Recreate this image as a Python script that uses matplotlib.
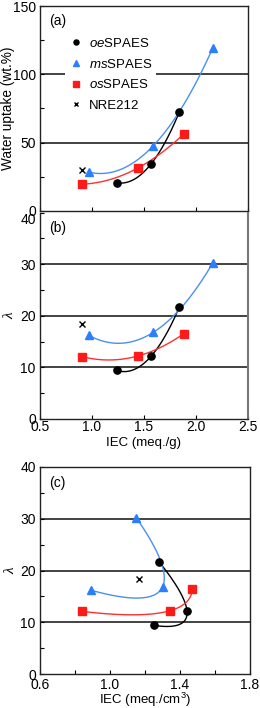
import numpy as np
import matplotlib
matplotlib.use("Agg")
import matplotlib.pyplot as plt
from matplotlib.ticker import MultipleLocator

plt.rcParams['font.family'] = ['Liberation Sans', 'DejaVu Sans']
plt.rcParams['mathtext.fontset'] = 'custom'
plt.rcParams['mathtext.it'] = 'Liberation Sans:italic'
plt.rcParams['mathtext.rm'] = 'Liberation Sans'

# ---- data ----
series = ['oeSPAES', 'msSPAES', 'osSPAES']
labels = [r'$\it{oe}$SPAES', r'$\it{ms}$SPAES', r'$\it{os}$SPAES', 'NRE212']
iec_w = {'oeSPAES': [1.24, 1.57, 1.84],
         'msSPAES': [0.97, 1.59, 2.16],
         'osSPAES': [0.90, 1.44, 1.88]}
water_uptake = {'oeSPAES': [20.6, 34.6, 72.5],
                'msSPAES': [28.4, 47.8, 119.0],
                'osSPAES': [19.6, 31.4, 56.2]}
lam = {'oeSPAES': [9.4, 12.2, 21.7],
       'msSPAES': [16.2, 16.8, 30.2],
       'osSPAES': [12.1, 12.2, 16.5]}
iec_v = {'oeSPAES': [1.25, 1.44, 1.28],
         'msSPAES': [0.89, 1.30, 1.15],
         'osSPAES': [0.84, 1.34, 1.47]}
nre_iec_w = 0.90
nre_wu = 30.0
nre_lam = 18.4
nre_iec_v = 1.165

colors = {'oeSPAES': '#000000', 'msSPAES': '#2a7fff', 'osSPAES': '#ff1a1a'}
line_colors = {'oeSPAES': '#000000', 'msSPAES': '#4a90f0', 'osSPAES': '#ff3030'}
markers = {'oeSPAES': 'o', 'msSPAES': '^', 'osSPAES': 's'}


def quad_curve(t, x, y, n=200):
    tt = np.linspace(min(t), max(t), n)
    px = np.polyfit(t, x, 2)
    py = np.polyfit(t, y, 2)
    return np.polyval(px, tt), np.polyval(py, tt)


fig = plt.figure(figsize=(2.6, 7.08), dpi=100)
W, H = 260.0, 708.0
def box(l, r, t, b):
    return [l / W, 1 - b / H, (r - l) / W, (b - t) / H]

ax_a = fig.add_axes(box(40, 248, 6, 211))
ax_b = fig.add_axes(box(40, 248, 212.6, 419))
ax_c = fig.add_axes(box(40, 250, 467, 674))

for ax in (ax_a, ax_b, ax_c):
    ax.tick_params(direction='in', which='both', length=3, width=0.8,
                   labelsize=10, top=False, right=False, pad=3)
    for s in ax.spines.values():
        s.set_linewidth(1.0)
        s.set_color('#222222')

ax_b.spines['top'].set_visible(False)
ax_b.spines['right'].set_color('#777777')
ax_b.spines['right'].set_linewidth(1.5)
ax_b.tick_params(axis='x', pad=1)
ax_c.tick_params(axis='x', pad=3)

lam_font = dict(family='Liberation Serif', style='italic', fontsize=11)

# ---- panel (a) ----
for s in series:
    xs, ys = quad_curve(iec_w[s], iec_w[s], water_uptake[s])
    ax_a.plot(xs, ys, color=line_colors[s], lw=1.0, zorder=3)
handles = []
for s, lab in zip(series, labels[:3]):
    h, = ax_a.plot(iec_w[s], water_uptake[s], linestyle='none', marker=markers[s],
                   color=colors[s], ms=5.2, label=lab, zorder=4)
    handles.append(h)
h, = ax_a.plot([nre_iec_w], [nre_wu], linestyle='none', marker='x', color='black',
               ms=4.5, mew=1.0, label=labels[3], zorder=4)
handles.append(h)
ax_a.set_xlim(0.5, 2.5)
ax_a.set_ylim(0, 150)
ax_a.xaxis.set_major_locator(MultipleLocator(0.5))
ax_a.yaxis.set_major_locator(MultipleLocator(50))
ax_a.yaxis.set_minor_locator(MultipleLocator(25))
ax_a.tick_params(axis='x', labelbottom=False)
for v in (50, 100):
    ax_a.axhline(v, color='#222222', lw=1.2, zorder=1)
ax_a.set_ylabel('Water uptake (wt.%)', fontsize=9.8)
ax_a.yaxis.set_label_coords(-0.118, 0.5)
ax_a.text(0.045, 0.925, '(a)', transform=ax_a.transAxes, fontsize=10, va='center')
leg = ax_a.legend(handles=handles, loc='upper left', bbox_to_anchor=(0.12, 0.87),
                  frameon=True, fontsize=9.5, markerscale=0.7, handlelength=1.0,
                  handletextpad=0.5, labelspacing=0.6, borderpad=0.3,
                  borderaxespad=0)
leg.get_frame().set_edgecolor('none')
leg.get_frame().set_facecolor('white')
leg.get_frame().set_alpha(1.0)
leg.set_zorder(2)

# ---- panel (b) ----
for s in series:
    xs, ys = quad_curve(iec_w[s], iec_w[s], lam[s])
    ax_b.plot(xs, ys, color=line_colors[s], lw=1.0, zorder=3)
    ax_b.plot(iec_w[s], lam[s], linestyle='none', marker=markers[s],
              color=colors[s], ms=5.2, zorder=4)
ax_b.plot([nre_iec_w], [nre_lam], linestyle='none', marker='x', color='black',
          ms=4.5, mew=1.0, zorder=4)
ax_b.set_xlim(0.5, 2.5)
ax_b.set_ylim(0, 40)
ax_b.set_xticks([0.5, 1.0, 1.5, 2.0, 2.5])
ax_b.set_xticklabels(['0.5', '1.0', '1.5', '2.0', '2.5'])
ax_b.set_yticks([0, 10, 20, 30, 40])
ax_b.yaxis.set_minor_locator(MultipleLocator(5))
for v in (10, 20, 30):
    ax_b.axhline(v, color='#222222', lw=1.2, zorder=1)
ax_b.set_ylabel('λ', **lam_font)
ax_b.yaxis.set_label_coords(-0.115, 0.5)
ax_b.set_xlabel('IEC (meq./g)', fontsize=9.5)
ax_b.xaxis.set_label_coords(0.5, -0.085)
ax_b.text(0.045, 0.925, '(b)', transform=ax_b.transAxes, fontsize=10, va='center')
ax_b.get_yticklabels()[-1].set_va('top')

# ---- panel (c) ----
for s in series:
    xs, ys = quad_curve(iec_w[s], iec_v[s], lam[s])
    ax_c.plot(xs, ys, color=line_colors[s], lw=1.0, zorder=3)
    ax_c.plot(iec_v[s], lam[s], linestyle='none', marker=markers[s],
              color=colors[s], ms=5.2, zorder=4)
ax_c.plot([nre_iec_v], [nre_lam], linestyle='none', marker='x', color='black',
          ms=4.5, mew=1.0, zorder=4)
ax_c.set_xlim(0.6, 1.8)
ax_c.set_ylim(0, 40)
ax_c.set_xticks([0.6, 1.0, 1.4, 1.8])
ax_c.set_xticklabels(['0.6', '1.0', '1.4', '1.8'])
ax_c.xaxis.set_minor_locator(MultipleLocator(0.2))
ax_c.set_yticks([0, 10, 20, 30, 40])
ax_c.yaxis.set_minor_locator(MultipleLocator(5))
for v in (10, 20, 30):
    ax_c.axhline(v, color='#222222', lw=1.2, zorder=1)
ax_c.set_ylabel('λ', **lam_font)
ax_c.yaxis.set_label_coords(-0.11, 0.5)
ax_c.set_xlabel(r'IEC (meq./cm$^3$)', fontsize=9.5)
ax_c.xaxis.set_label_coords(0.5, -0.079)
ax_c.text(0.045, 0.925, '(c)', transform=ax_c.transAxes, fontsize=10, va='center')

fig.savefig('out.png', dpi=100)
